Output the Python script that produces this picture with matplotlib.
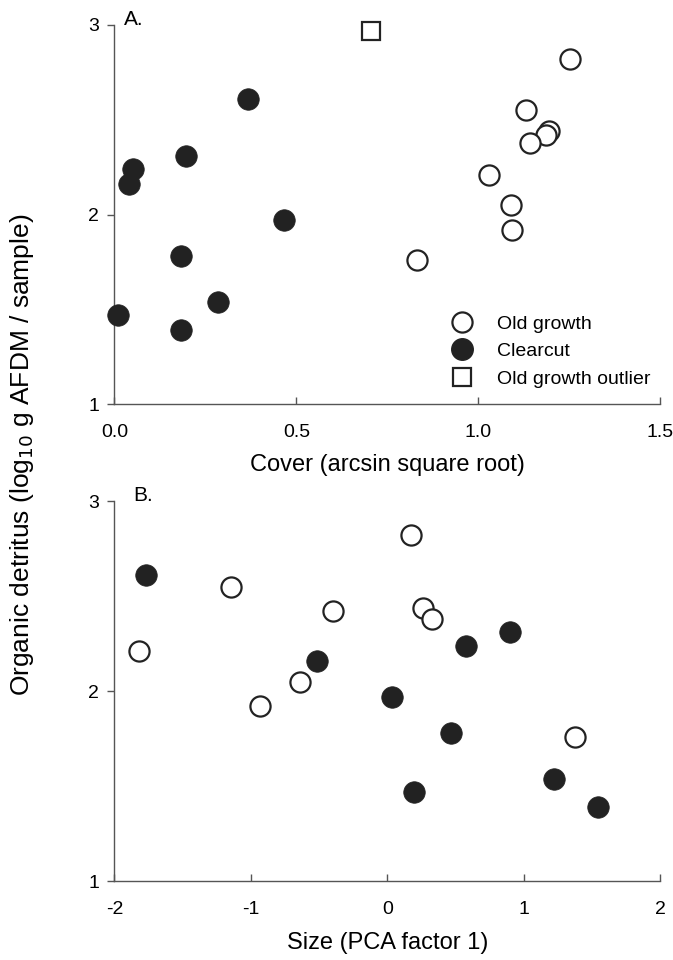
import matplotlib
matplotlib.use('Agg')
import matplotlib.pyplot as plt
from matplotlib.lines import Line2D

plt.rcParams['font.family'] = ['Liberation Sans', 'DejaVu Sans']
plt.rcParams['axes.unicode_minus'] = False

# Panel A: cover (arcsin square root) vs organic detritus
old_cover = [1.253, 1.131, 1.193, 1.186, 1.141, 1.030, 1.089, 1.093, 0.832]
old_detritus = [2.82, 2.55, 2.44, 2.42, 2.38, 2.21, 2.05, 1.92, 1.76]
clear_cover = [0.367, 0.197, 0.052, 0.041, 0.466, 0.184, 0.284, 0.010, 0.184]
clear_detritus_a = [2.61, 2.31, 2.24, 2.16, 1.97, 1.78, 1.54, 1.47, 1.39]
outlier_cover = [0.705]
outlier_detritus = [2.97]

# Panel B: size (PCA factor 1) vs organic detritus
old_size = [-1.144, -0.398, -1.821, -0.640, -0.936, 0.170, 0.258, 0.327, 1.374]
old_detritus_b = [2.55, 2.42, 2.21, 2.05, 1.92, 2.82, 2.44, 2.38, 1.76]
clear_size = [-1.770, -0.517, 0.038, 0.578, 0.897, 0.468, 0.192, 1.224, 1.543]
clear_detritus_b = [2.61, 2.16, 1.97, 2.24, 2.31, 1.78, 1.47, 1.54, 1.39]

a_xticks = [0.0, 0.5, 1.0, 1.5]
b_xticks = [-2, -1, 0, 1, 2]
yticks = [1, 2, 3]

fs = 14
ms = 14.5

fig = plt.figure(figsize=(6.73, 9.6), dpi=100)
ax_a = fig.add_axes([0.170, 0.579, 0.811, 0.395])
ax_b = fig.add_axes([0.170, 0.082, 0.811, 0.396])


def style_axis(ax):
    for side in ['top', 'right']:
        ax.spines[side].set_visible(False)
    for side in ['left', 'bottom']:
        ax.spines[side].set_color('#555555')
        ax.spines[side].set_linewidth(1.0)
    ax.set_ylim(1, 3)
    ax.set_yticks(yticks)
    ax.tick_params(axis='y', direction='out', length=5, width=1, color='#555555',
                   labelsize=fs, pad=6)
    ax.tick_params(axis='x', direction='in', length=5, width=1, color='#555555',
                   labelsize=fs, pad=14)


def open_pts(ax, x, y):
    ax.plot(x, y, 'o', ms=ms, mfc='white', mec='#222222', mew=1.6, clip_on=False, zorder=3)


def filled_pts(ax, x, y):
    ax.plot(x, y, 'o', ms=ms + 1, mfc='#222222', mec='#222222', mew=0.5, clip_on=False, zorder=3)


# --- panel A
style_axis(ax_a)
filled_pts(ax_a, clear_cover, clear_detritus_a)
open_pts(ax_a, old_cover, old_detritus)
ax_a.plot(outlier_cover, outlier_detritus, 's', ms=ms - 1.5, mfc='white', mec='#222222',
          mew=1.6, clip_on=False, zorder=3)
ax_a.set_xlim(0, 1.5)
ax_a.set_xticks(a_xticks)
ax_a.set_xticklabels([f'{v:.1f}' for v in a_xticks])
ax_a.set_xlabel('Cover (arcsin square root)', fontsize=17, labelpad=10)
ax_a.text(0.018, 1.0, 'A.', transform=ax_a.transAxes, fontsize=15, va='baseline')

handles = [
    Line2D([], [], marker='o', ls='none', ms=ms, mfc='white', mec='#222222', mew=1.6),
    Line2D([], [], marker='o', ls='none', ms=ms + 1, mfc='#222222', mec='#222222'),
    Line2D([], [], marker='s', ls='none', ms=ms - 1.5, mfc='white', mec='#222222', mew=1.6),
]
ax_a.legend(handles, ['Old growth', 'Clearcut', 'Old growth outlier'], loc='upper left',
            bbox_to_anchor=(0.587, 0.255), frameon=False, fontsize=fs,
            handletextpad=0.8, labelspacing=0.5, borderaxespad=0)

# --- panel B
style_axis(ax_b)
filled_pts(ax_b, clear_size, clear_detritus_b)
open_pts(ax_b, old_size, old_detritus_b)
ax_b.set_xlim(-2, 2)
ax_b.set_xticks(b_xticks)
ax_b.set_xlabel('Size (PCA factor 1)', fontsize=17, labelpad=10)
ax_b.text(0.035, 1.0, 'B.', transform=ax_b.transAxes, fontsize=15, va='baseline')

fig.text(0.033, 0.526, 'Organic detritus (log$_{10}$ g AFDM / sample)', rotation=90,
         ha='center', va='center', fontsize=19)

fig.savefig('out.png', dpi=100)
